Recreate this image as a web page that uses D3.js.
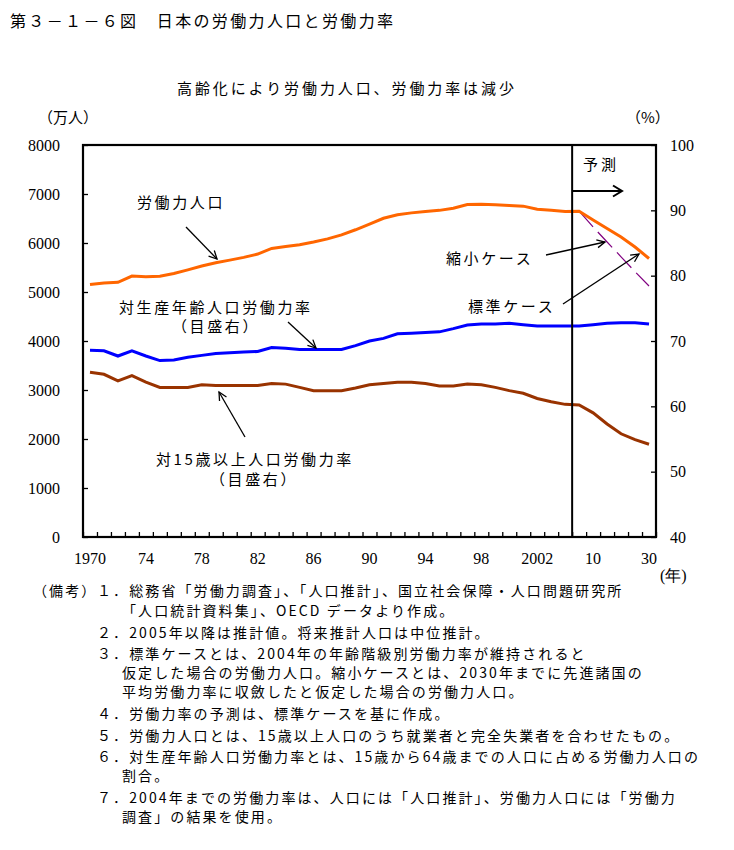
<!DOCTYPE html>
<html><head><meta charset="utf-8">
<script src="https://cdn.jsdelivr.net/npm/d3@7"></script>
<style>body{margin:0;background:#fff;}</style>
</head><body>
<svg id="c" width="734" height="850"></svg>
<script>
// ---- data ----
const categories = ["1970","1971","1972","1973","1974","1975","1976","1977","1978","1979",
  "1980","1981","1982","1983","1984","1985","1986","1987","1988","1989",
  "1990","1991","1992","1993","1994","1995","1996","1997","1998","1999",
  "2000","2001","2002","2003","2004","2005","2010","2015","2020","2025","2030"];
const tickCategories = ["1970","1974","1978","1982","1986","1990","1994","1998","2002","2010","2030"];
const tickLabels = ["1970","74","78","82","86","90","94","98","2002","10","30"];
// 労働力人口（万人）・標準ケース
const laborForce = [5153,5186,5199,5326,5310,5323,5378,5452,5532,5596,
  5650,5707,5774,5889,5927,5963,6020,6084,6166,6270,
  6384,6505,6578,6615,6645,6666,6711,6787,6793,6779,
  6766,6752,6689,6666,6642,6650,6469,6296,6122,5918,5684];
// 縮小ケース（万人）
const reducedCategories = ["2005","2010","2015","2020","2025","2030"];
const reducedCase = [6650,6327,6020,5718,5416,5122];
// 対生産年齢人口労働力率（%）
const workingAgeRate = [68.6,68.5,67.7,68.5,67.7,67.0,67.1,67.5,67.8,68.1,
  68.2,68.3,68.4,69.0,68.9,68.7,68.7,68.7,68.7,69.3,
  70.0,70.4,71.1,71.2,71.3,71.4,71.9,72.45,72.6,72.6,
  72.7,72.5,72.3,72.3,72.3,72.3,72.5,72.7,72.8,72.8,72.6];
// 対15歳以上人口労働力率（%）
const rate15plus = [65.2,64.9,63.9,64.7,63.7,62.9,62.9,62.9,63.3,63.2,
  63.2,63.2,63.2,63.5,63.4,62.9,62.4,62.4,62.4,62.8,
  63.3,63.5,63.7,63.7,63.5,63.1,63.1,63.4,63.3,62.9,
  62.4,62.0,61.2,60.7,60.3,60.2,59.0,57.3,55.8,54.9,54.2];
const leftTicks = [0,1000,2000,3000,4000,5000,6000,7000,8000];
const rightTicks = [40,50,60,70,80,90,100];
const notes = [
  ["（備考）", 33, 596],
  ["１．総務省「労働力調査」、「人口推計」、国立社会保障・人口問題研究所", 97, 596],
  ["「人口統計資料集」、OECD データより作成。", 122, 616],
  ["２．2005年以降は推計値。将来推計人口は中位推計。", 97, 638],
  ["３．標準ケースとは、2004年の年齢階級別労働力率が維持されると", 97, 659],
  ["仮定した場合の労働力人口。縮小ケースとは、2030年までに先進諸国の", 122, 678],
  ["平均労働力率に収斂したと仮定した場合の労働力人口。", 122, 697],
  ["４．労働力率の予測は、標準ケースを基に作成。", 97, 719],
  ["５．労働力人口とは、15歳以上人口のうち就業者と完全失業者を合わせたもの。", 97, 741],
  ["６．対生産年齢人口労働力率とは、15歳から64歳までの人口に占める労働力人口の", 97, 762],
  ["割合。", 122, 781],
  ["７．2004年までの労働力率は、人口には「人口推計」、労働力人口には「労働力", 97, 803],
  ["調査」の結果を使用。", 122, 822]
];

// ---- drawing ----
const JP = "'Noto Sans CJK JP', sans-serif";
const SERIF = "'Liberation Serif', serif";
const svg = d3.select("#c");
svg.append("rect").attr("width",734).attr("height",850).attr("fill","#fff");
const L=83, R=656, T=145, B=537;
const x = d3.scaleBand().domain(categories).range([L,R]);
const cx = c => x(c) + x.bandwidth()/2;
const xi = d3.scaleLinear().domain([0,categories.length]).range([L,R]);
const yL = d3.scaleLinear().domain([0,8000]).range([B,T]);
const yR = d3.scaleLinear().domain([40,100]).range([B,T]);

const defs = svg.append("defs");
function marker(id, w, h, sw){
  defs.append("marker").attr("id",id).attr("viewBox","-12 -8 14 16")
    .attr("refX",0).attr("refY",0).attr("markerWidth",14).attr("markerHeight",16)
    .attr("markerUnits","userSpaceOnUse").attr("orient","auto")
    .append("path").attr("d",`M${-w},${-h} L0,0 L${-w},${h}`)
    .attr("fill","none").attr("stroke","#000").attr("stroke-width",sw);
}
marker("arr", 8, 4, 1.3);
marker("arrBig", 9, 5.5, 2);

// titles
svg.append("text").attr("x",10).attr("y",27).attr("font-family",JP).attr("font-size",16)
  .attr("letter-spacing",2.35).text("第３－１－６図　日本の労働力人口と労働力率");
svg.append("text").attr("x",177).attr("y",94).attr("font-family",JP).attr("font-size",15)
  .attr("letter-spacing",2.9).text("高齢化により労働力人口、労働力率は減少");
svg.append("text").attr("x",38).attr("y",123).attr("font-family",JP).attr("font-size",15)
  .text("（万人）");
svg.append("text").attr("x",626).attr("y",123).attr("font-family",JP).attr("font-size",15)
  .text("（%）");
svg.append("text").attr("x",660).attr("y",581).attr("font-family",SERIF).attr("font-size",16)
  .text("(年)");

// axes
function styleAxis(g){
  g.attr("font-family",SERIF).attr("font-size",16);
  g.select(".domain").remove();
  g.selectAll("line").attr("stroke","#000").attr("stroke-width",1.3);
  g.selectAll("text").style("font-family",SERIF).style("font-size","16px")
    .style("font-weight","normal").attr("fill","#000");
}
svg.append("g").attr("transform",`translate(${L},0)`)
  .call(d3.axisLeft(yL).tickValues(leftTicks).tickFormat(d3.format("d"))
    .tickSizeInner(-5).tickSizeOuter(0).tickPadding(23))
  .call(styleAxis);
svg.append("g").attr("transform",`translate(${R},0)`)
  .call(d3.axisRight(yR).tickValues(rightTicks).tickFormat(d3.format("d"))
    .tickSizeInner(-5).tickSizeOuter(0).tickPadding(14))
  .call(styleAxis);
svg.append("g").attr("transform",`translate(0,${B})`)
  .call(d3.axisBottom(xi).tickValues(d3.range(categories.length+1)).tickSizeInner(-5).tickSizeOuter(0).tickFormat(""))
  .call(styleAxis);
svg.append("g").attr("transform",`translate(0,${B})`)
  .call(d3.axisBottom(x).tickValues(tickCategories).tickSize(0).tickPadding(16)
    .tickFormat(d => tickLabels[tickCategories.indexOf(d)]))
  .call(styleAxis);

// frame
svg.append("rect").attr("x",L).attr("y",T).attr("width",R-L).attr("height",B-T)
  .attr("fill","none").attr("stroke","#000").attr("stroke-width",2.2);

// series
const lineL = d3.line().x((d,i)=>cx(categories[i])).y(d=>yL(d));
const lineR = d3.line().x((d,i)=>cx(categories[i])).y(d=>yR(d));
svg.append("path").attr("d",lineR(rate15plus)).attr("fill","none")
  .attr("stroke","#993300").attr("stroke-width",3);
svg.append("path").attr("d",lineR(workingAgeRate)).attr("fill","none")
  .attr("stroke","#0000ff").attr("stroke-width",3);
svg.append("path").attr("d",d3.line().x((d,i)=>cx(reducedCategories[i])).y(d=>yL(d))(reducedCase))
  .attr("fill","none").attr("stroke","#800080").attr("stroke-width",1.2).attr("stroke-dasharray","21,7");
svg.append("path").attr("d",lineL(laborForce)).attr("fill","none")
  .attr("stroke","#ff6600").attr("stroke-width",3);

// forecast divider
const xDiv = x("2005");
svg.append("line").attr("x1",xDiv).attr("x2",xDiv).attr("y1",T).attr("y2",B)
  .attr("stroke","#000").attr("stroke-width",2);
svg.append("text").attr("x",583).attr("y",170).attr("font-family",JP).attr("font-size",15)
  .attr("letter-spacing",3).text("予測");
svg.append("line").attr("x1",xDiv).attr("x2",622).attr("y1",191).attr("y2",191)
  .attr("stroke","#000").attr("stroke-width",2).attr("marker-end","url(#arrBig)");

// annotations
const ann = [
  ["労働力人口", 137, 208, 186, 227, 217, 259],
  ["対生産年齢人口労働力率", 119, 313, 288, 322, 316, 348],
  ["縮小ケース", 446, 264, 546, 255, 605, 242],
  ["標準ケース", 468, 312, 563, 304, 639, 254],
  ["対15歳以上人口労働力率", 156, 465, 245, 437, 219, 392]
];
ann.forEach(a=>{
  svg.append("text").attr("x",a[1]).attr("y",a[2]).attr("font-family",JP).attr("font-size",15)
    .attr("letter-spacing",2.6).text(a[0]);
  svg.append("line").attr("x1",a[3]).attr("y1",a[4]).attr("x2",a[5]).attr("y2",a[6])
    .attr("stroke","#000").attr("stroke-width",1.3).attr("marker-end","url(#arr)");
});
svg.append("text").attr("x",172).attr("y",332).attr("font-family",JP).attr("font-size",15)
  .attr("letter-spacing",2.6).text("（目盛右）");
svg.append("text").attr("x",210).attr("y",485).attr("font-family",JP).attr("font-size",15)
  .attr("letter-spacing",2.6).text("（目盛右）");

// notes
notes.forEach(n=>{
  svg.append("text").attr("x",n[1]).attr("y",n[2]).attr("font-family",JP).attr("font-size",14)
    .attr("letter-spacing",2.1).text(n[0]);
});
</script>
</body></html>
